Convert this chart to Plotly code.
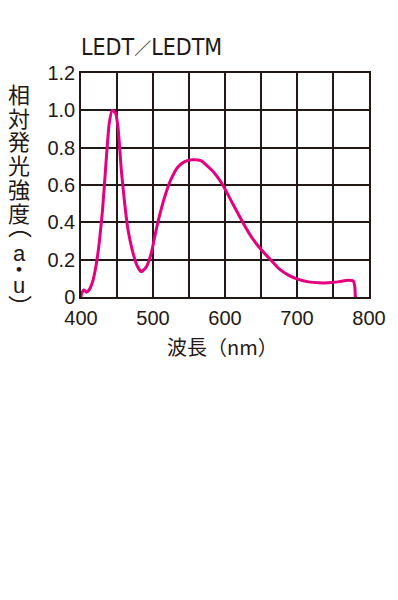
import plotly.graph_objects as go

# Spectrum data
wavelength = [400, 401, 404, 407.5, 411, 416, 420.7, 425.3, 430, 434.5, 439, 443.2, 447.8,
              451.5, 456, 460.7, 465.3, 471.3, 477.7, 483.7, 490.6, 497.5, 504.4, 511.3, 518.2,
              525, 534.3, 543.4, 555, 566.5, 582.5, 596.3, 610, 624, 637.7, 651, 662, 674.5,
              688, 702, 716, 730, 743.4, 757, 771, 778, 780.3, 781]
intensity = [0.0, 0.02, 0.037, 0.026, 0.036, 0.08, 0.163, 0.29, 0.47, 0.707, 0.924, 1.0, 0.987,
             0.906, 0.68, 0.50, 0.36, 0.25, 0.17, 0.135, 0.16, 0.233, 0.36, 0.47, 0.56,
             0.63, 0.695, 0.724, 0.735, 0.73, 0.676, 0.604, 0.505, 0.405, 0.316, 0.25, 0.205, 0.153,
             0.117, 0.094, 0.081, 0.076, 0.076, 0.081, 0.09, 0.086, 0.054, 0.0]

x_ticks = [400, 500, 600, 700, 800]
x_labels = ["400", "500", "600", "700", "800"]
y_ticks = [0, 0.2, 0.4, 0.6, 0.8, 1.0, 1.2]
y_labels = ["0", "0.2", "0.4", "0.6", "0.8", "1.0", "1.2"]

title_parts = ["LEDT", "／", "LEDTM"]
x_title = "波長（nm）"
y_title_kanji = ["相", "対", "発", "光", "強", "度"]
y_title_unit = ["a", "・", "u"]
y_title_parens = ["︵", "︶"]   # vertical-writing parentheses

INK = "#231815"
LINE = "#E4007F"
FONT = "Liberation Sans, Arial, Noto Sans CJK JP, sans-serif"
COND = "DejaVu Sans Condensed, Liberation Sans, Arial, sans-serif"
CJK = "Noto Sans CJK JP, sans-serif"

OFF = 8  # page body margin
W, H = 398 - OFF, 600 - OFF
L, T = 81 - OFF, 73 - OFF
plot_w, plot_h = 290, 224
R = W - L - plot_w
B = H - T - plot_h

fig = go.Figure()
fig.add_trace(go.Scatter(x=wavelength, y=intensity, mode="lines",
                         line=dict(color=LINE, width=3, shape="spline", smoothing=0.5),
                         hoverinfo="skip", showlegend=False))

fig.update_layout(
    width=W, height=H,
    margin=dict(l=L, r=R, t=T, b=B, pad=0),
    paper_bgcolor="white", plot_bgcolor="white",
    font=dict(family=FONT, color=INK, size=20),
    xaxis=dict(range=[400, 800], tickvals=x_ticks, ticktext=x_labels,
               showgrid=True, gridcolor=INK, gridwidth=1.5,
               minor=dict(dtick=50, tick0=400, showgrid=True, gridcolor=INK, gridwidth=1.5),
               showline=True, linecolor=INK, linewidth=1.5, mirror=True,
               zeroline=False, ticks="", ticklabelstandoff=2,
               tickfont=dict(size=20, color=INK, family=FONT)),
    yaxis=dict(range=[0, 1.2], tickvals=y_ticks, ticktext=y_labels,
               showgrid=True, gridcolor=INK, gridwidth=1.5,
               showline=True, linecolor=INK, linewidth=1.5, mirror=True,
               zeroline=False, ticks="", ticklabelstandoff=0,
               tickfont=dict(size=20, color=INK, family=FONT)),
)

def py2paper(py):  # py: page pixel y of the reference
    return (H - B - (py - OFF)) / plot_h

def px2paper(px):  # px: page pixel x of the reference
    return (px - OFF - L) / plot_w

# Title
title_html = (title_parts[0]
              + '<span style="font-family:Noto Sans CJK JP;font-size:17px">' + title_parts[1] + '</span>'
              + title_parts[2])
fig.add_annotation(text=title_html, xref="paper", yref="paper",
                   x=px2paper(79), y=py2paper(46.5),
                   xanchor="left", yanchor="middle", showarrow=False,
                   font=dict(size=23, color=INK, family=COND))

# X axis title
fig.add_annotation(text=x_title, xref="paper", yref="paper",
                   x=px2paper(223.5), y=py2paper(346),
                   xanchor="center", yanchor="middle", showarrow=False,
                   font=dict(size=20, color=INK, family=CJK))

# Vertical Y axis title: one multi-line text with a fine base line pitch (≈7.9 px)
base = 6.08
lines = []
for ch in y_title_kanji:              # kanji every 3 pitches
    lines += ['<span style="font-size:22px">' + ch + '</span>', "", ""]
lines = lines[:-2]                    # 度 on line 15
lines += ["", "", "", ""]             # room for the vertical "("
for ch in y_title_unit:               # a, ・, u every 2 pitches
    fam = ";font-family:Liberation Sans" if ch in "au" else ""
    lines.append('<span style="font-size:22px' + fam + '">' + ch + '</span>')
    lines.append("")
lines = lines[:-1]
fig.add_annotation(text="<br>".join(lines), xref="paper", yref="paper",
                   x=px2paper(19), y=py2paper(75),
                   xanchor="center", yanchor="top", align="center", showarrow=False,
                   font=dict(size=base, color=INK, family=CJK))

# Vertical-form parentheses (glyph ink sits low / high in its box)
for ch, cy in zip(y_title_parens, [224.6, 305.7]):
    fig.add_annotation(text=ch, xref="paper", yref="paper",
                       x=px2paper(20), y=py2paper(cy),
                       xanchor="center", yanchor="middle", showarrow=False,
                       font=dict(size=24, color=INK, family=CJK))

fig.write_html("out.html")
